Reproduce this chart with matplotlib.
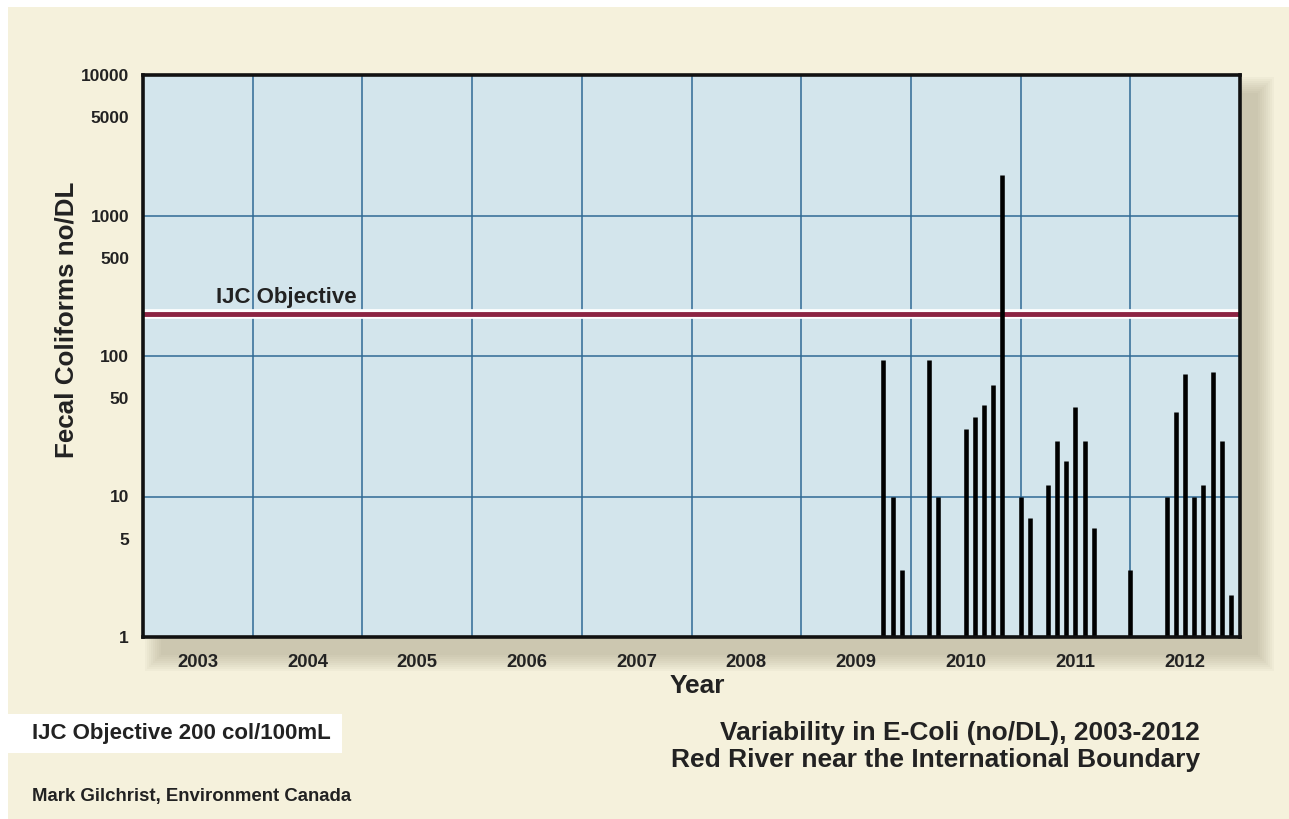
import matplotlib.pyplot as plt
import matplotlib.patches as patches

plt.rcParams['font.family'] = ['Liberation Sans', 'DejaVu Sans']

# sample year and month (0 = Jan) of each measurement
years = [2009, 2009, 2009,
         2010, 2010, 2010, 2010, 2010, 2010, 2010,
         2011, 2011, 2011, 2011, 2011, 2011, 2011, 2011,
         2012, 2012, 2012, 2012, 2012, 2012, 2012, 2012, 2012]
months = [9, 10, 11,
          2, 3, 6, 7, 8, 9, 10,
          0, 1, 3, 4, 5, 6, 7, 8,
          0, 4, 5, 6, 7, 8, 9, 10, 11]
ecoli = [94, 10, 3,
         94, 10, 30, 37, 45, 62, 1950,
         10, 7, 12, 25, 18, 43, 25, 6,
         3, 10, 40, 74, 10, 12, 77, 25, 2]

year_labels = ['2003', '2004', '2005', '2006', '2007', '2008', '2009', '2010', '2011', '2012']
y_ticks = [1, 5, 10, 50, 100, 500, 1000, 5000, 10000]
ijc_objective = 200

cream = '#f5f1dc'
panel = '#d3e5ec'
grid_col = '#2f6a95'
txt = '#222222'

W, H = 1289, 819
fig = plt.figure(figsize=(W / 100, H / 100), dpi=100)
fig.patch.set_facecolor(cream)
# thin white margin at top and left
fig.patches.append(patches.Rectangle((0, 1 - 7 / H), 1, 7 / H, transform=fig.transFigure,
                                     facecolor='white', edgecolor='none', zorder=-10))
fig.patches.append(patches.Rectangle((0, 0), 8 / W, 1, transform=fig.transFigure,
                                     facecolor='white', edgecolor='none', zorder=-10))

L, R, T, B = 143 / W, 1240 / W, 1 - 75 / H, 1 - 637 / H

# soft drop shadow below / right of the plot panel
dx, dy = 18, 18
for s in range(0, 18, 2):
    fig.patches.append(patches.Rectangle(
        (L + (dx - s) / W, B - (dy + s) / H), R - L + 2 * s / W, T - B + 2 * s / H,
        transform=fig.transFigure, facecolor='#9c977c', edgecolor='none',
        alpha=0.06, zorder=-5))

ax = fig.add_axes([L, B, R - L, T - B])
ax.set_facecolor(panel)

x = [y + m / 12 for y, m in zip(years, months)]
ax.set_yscale('log')
ax.set_xlim(2003, 2013)
ax.set_ylim(1, 10000)

# grid: year boundaries and decades
for xv in range(2004, 2013):
    ax.axvline(xv, color=grid_col, lw=1.1, zorder=1)
for yv in [10, 100, 1000]:
    ax.axhline(yv, color=grid_col, lw=1.1, zorder=1)

# objective line
ax.axhline(ijc_objective, color='white', lw=7, zorder=2)
ax.axhline(ijc_objective, color='#8c2443', lw=3.5, zorder=3)
ax.text(2003.67, ijc_objective * 1.1, 'IJC Objective', fontsize=16, fontweight='bold',
        color=txt, va='bottom', ha='left', zorder=4)

ax.vlines(x, 1, ecoli, color='black', lw=3.3, zorder=5)

ax.set_xticks([2003.5 + i for i in range(10)])
ax.set_xticklabels(year_labels, fontsize=13.3)
ax.set_yticks(y_ticks)
ax.set_yticklabels([str(v) for v in y_ticks], fontsize=12.5)
ax.minorticks_off()
ax.tick_params(length=0, colors=txt)
ax.tick_params(axis='y', pad=10)
ax.tick_params(axis='x', pad=12)
for lab in ax.get_xticklabels() + ax.get_yticklabels():
    lab.set_fontweight('bold')
for sp in ax.spines.values():
    sp.set_linewidth(2.6)
    sp.set_color('#111111')
    sp.set_zorder(6)

fig.text(697 / W, 1 - 686 / H, 'Year', fontsize=19, fontweight='bold',
         color=txt, ha='center', va='center')
fig.text(67 / W, 1 - 320 / H, 'Fecal Coliforms no/DL', fontsize=18.7, fontweight='bold',
         color=txt, ha='center', va='center', rotation=90)

# footer
fig.patches.append(patches.Rectangle((8 / W, 1 - 753 / H), 334 / W, 39 / H,
                                     transform=fig.transFigure, facecolor='white',
                                     edgecolor='none'))
fig.text(32 / W, 1 - 734 / H, 'IJC Objective 200 col/100mL', fontsize=16,
         fontweight='bold', color=txt, ha='left', va='center')
fig.text(32 / W, 1 - 797 / H, 'Mark Gilchrist, Environment Canada', fontsize=13.4,
         fontweight='bold', color=txt, ha='left', va='center')
fig.text(1200 / W, 1 - 733 / H, 'Variability in E-Coli (no/DL), 2003-2012', fontsize=19,
         fontweight='bold', color=txt, ha='right', va='center')
fig.text(1200 / W, 1 - 760 / H, 'Red River near the International Boundary', fontsize=19,
         fontweight='bold', color=txt, ha='right', va='center')

fig.savefig('out.png', dpi=100, facecolor=fig.get_facecolor())
